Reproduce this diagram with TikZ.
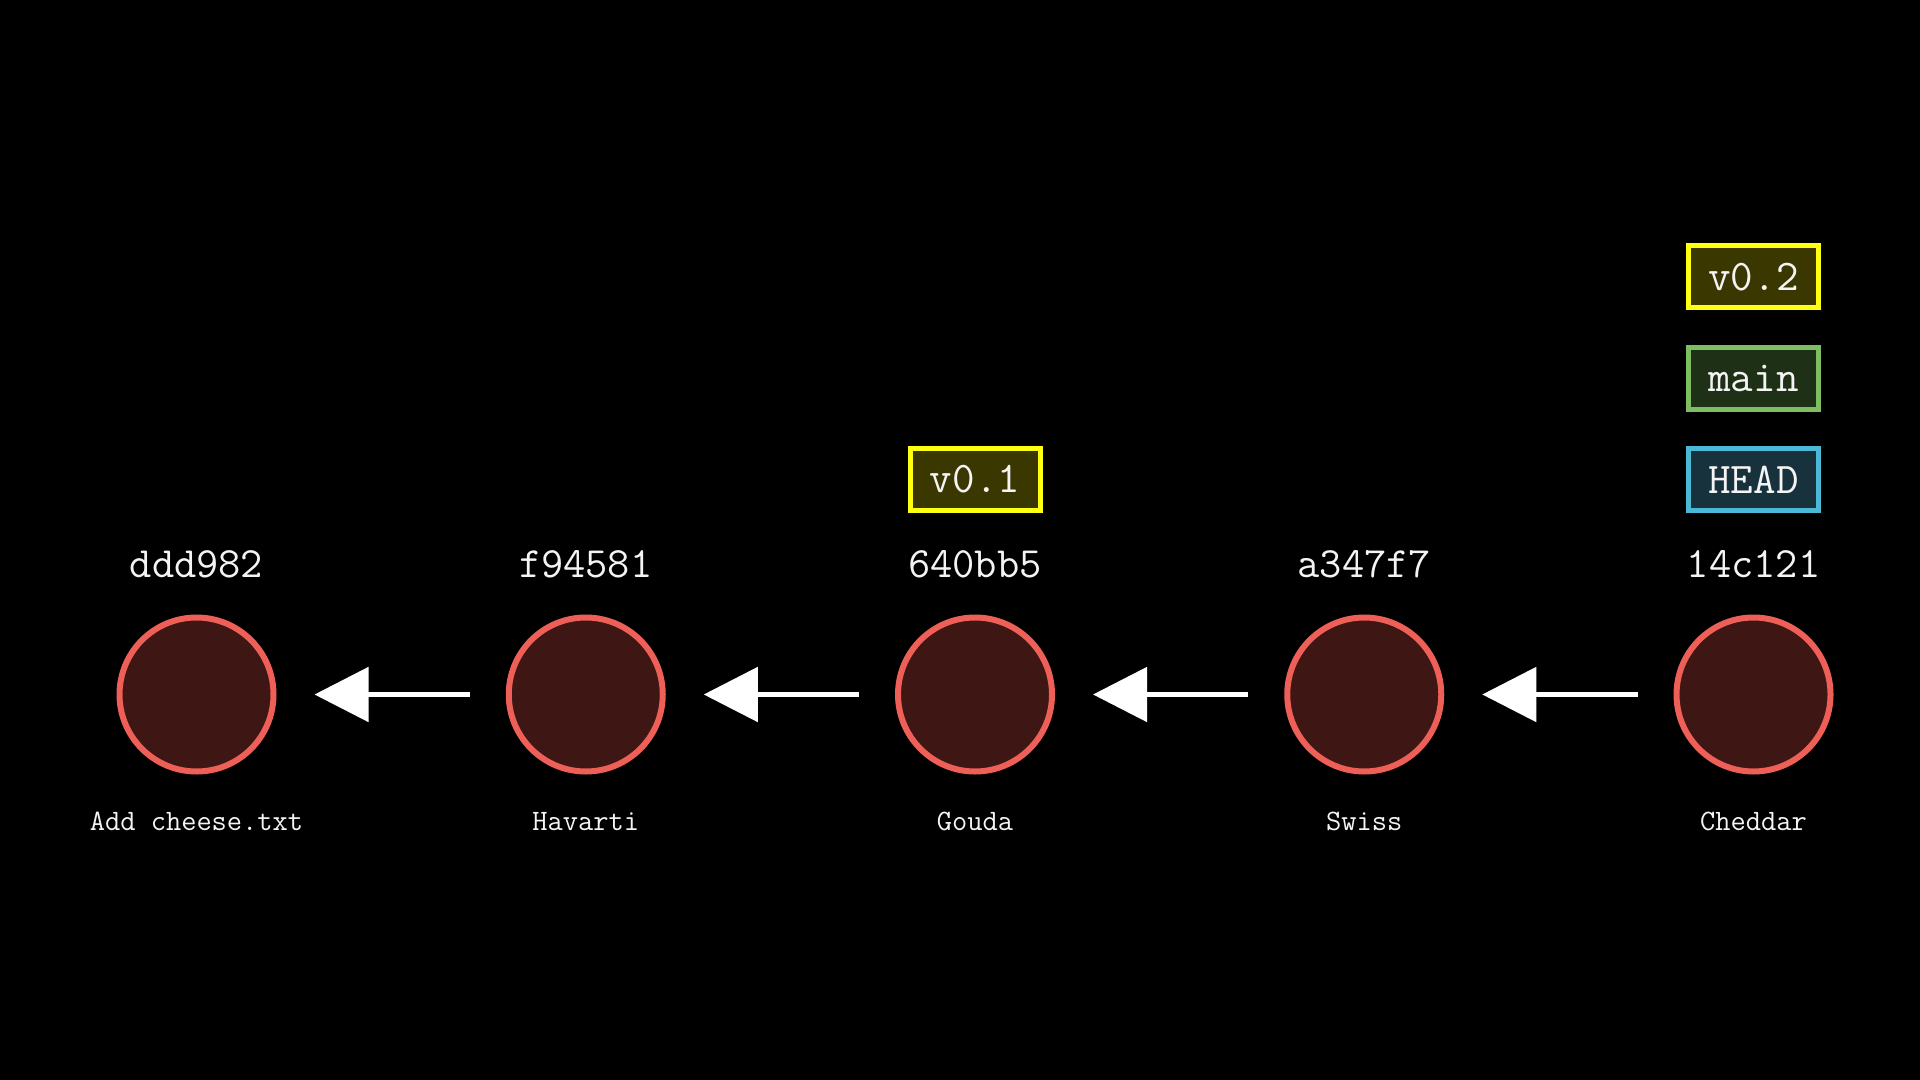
\documentclass[tikz,border=0pt]{standalone}
\usetikzlibrary{positioning, arrows.meta}
\definecolor{ring}{HTML}{EE5F57}
\definecolor{ringfill}{HTML}{3E1714}
\definecolor{txt}{HTML}{F4F4F4}
\definecolor{tagline}{HTML}{FFFF10}
\definecolor{tagfill}{HTML}{3A3800}
\definecolor{brline}{HTML}{7DBE63}
\definecolor{brfill}{HTML}{1E3015}
\definecolor{hdline}{HTML}{4BB8D6}
\definecolor{hdfill}{HTML}{17323D}
\tikzset{
	x=0.5pt, y=-0.5pt,
	node distance=194.625pt,
	commit/.style={circle, draw=ring, fill=ringfill, line width=3pt, minimum size=77pt, inner sep=0pt, outer sep=0pt},
	sha/.style={text=txt, font=\ttfamily\fontsize{21.6}{22}\selectfont},
	msg/.style={text=txt, font=\ttfamily\fontsize{14.8}{15}\selectfont},
	tag/.style={draw=tagline, fill=tagfill, line width=2.5pt, minimum width=65pt, minimum height=31pt, inner sep=0pt, text=txt, font=\ttfamily\fontsize{21.9}{22}\selectfont},
	branch/.style={tag, draw=brline, fill=brfill},
	head/.style={tag, draw=hdline, fill=hdfill},
	parent/.style={-{Triangle[length=27pt, width=27pt]}, draw=white, line width=2.5pt, shorten <=19.5pt, shorten >=20.5pt}}

\begin{document}
\begin{tikzpicture}
		\fill[black] (0,0) rectangle (1920,1080);
		\useasboundingbox (0,0) rectangle (1920,1080);

		\node[commit] (c1) at (196.5,694.5) {};
		\node[commit, right of=c1] (c2) {};
		\node[commit, right of=c2] (c3) {};
		\node[commit, right of=c3] (c4) {};
		\node[commit, right of=c4] (c5) {};

		\node[sha, above of=c1, node distance=65pt] (h1) {ddd982};
		\node[sha, above of=c2, node distance=65pt] (h2) {f94581};
		\node[sha, above of=c3, node distance=65pt] (h3) {640bb5};
		\node[sha, above of=c4, node distance=65pt] (h4) {a347f7};
		\node[sha, above of=c5, node distance=65pt] (h5) {14c121};

		\node[msg, below of=c1, node distance=63.5pt] (m1) {Add cheese.txt};
		\node[msg, below of=c2, node distance=63.5pt] (m2) {Havarti};
		\node[msg, below of=c3, node distance=63.5pt] (m3) {Gouda};
		\node[msg, below of=c4, node distance=63.5pt] (m4) {Swiss};
		\node[msg, below of=c5, node distance=63.5pt] (m5) {Cheddar};

		\node[tag, above of=h3, node distance=42.5pt] (v1) {v0.1};
		\node[head, above of=h5, node distance=42.5pt] (hd) {HEAD};
		\node[branch, above of=hd, node distance=50.5pt] (br) {main};
		\node[tag, above of=br, node distance=50.75pt] (v2) {v0.2};

		\draw[parent] (c2) -- (c1);
		\draw[parent] (c3) -- (c2);
		\draw[parent] (c4) -- (c3);
		\draw[parent] (c5) -- (c4);
	\end{tikzpicture}
\end{document}
